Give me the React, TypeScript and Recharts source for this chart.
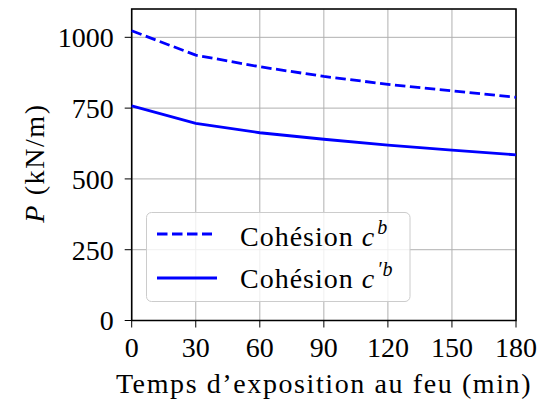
import React from "react";
import { LineChart, Line, XAxis, YAxis, CartesianGrid, ReferenceArea } from "recharts";

const temps = [0, 30, 60, 90, 120, 150, 180];
const cohesionB = [1023, 937, 896, 862, 834, 811, 788];
const cohesionPrimeB = [758, 696, 663, 640, 619, 602, 585];
const xTicks = [0, 30, 60, 90, 120, 150, 180];
const yTicks = [0, 250, 500, 750, 1000];
const seriesNames = ["Cohésion", "Cohésion"];
const seriesSup = ["b", "′b"];

const data = temps.map((t, i) => ({ t, b: cohesionB[i], pb: cohesionPrimeB[i] }));

const FONT = "'Liberation Serif', serif";
const BLUE = "#0000ff";
const FS = 28;
const DASH = "10.5 4.5";

const YLabel = () => {
  const cx = 44;
  const cy = 163;
  return (
    <text x={cx} y={cy} transform={`rotate(-90 ${cx} ${cy})`} textAnchor="middle"
      fontFamily={FONT} fontSize={FS} fill="#000" letterSpacing={1.6}>
      <tspan fontStyle="italic">P</tspan>
      <tspan> (kN/m)</tspan>
    </text>
  );
};

const XLabel = () => (
  <text x={324} y={393} textAnchor="middle" fontFamily={FONT} fontSize={FS} fill="#000" letterSpacing={1.6}>
    Temps d’exposition au feu (min)
  </text>
);

const LegendBox = () => (
  <svg width={539} height={403} style={{ position: "absolute", left: 0, top: 0, pointerEvents: "none" }}>
    <rect x={146.5} y={212.5} width={263.5} height={89} rx={5} fill="rgba(255,255,255,0.8)" stroke="#cccccc" strokeWidth={1} />
    {seriesNames.map((name, i) => {
      const ly = 234 + i * 44;
      const by = 246 + i * 42;
      return (
        <g key={i}>
          <line x1={157} x2={i === 0 ? 212 : 217} y1={ly} y2={ly} stroke={BLUE} strokeWidth={2.8}
            strokeDasharray={i === 0 ? DASH : undefined} />
          <text x={240} y={by} fontFamily={FONT} fontSize={FS} fill="#000" letterSpacing={1}>
            {name}{" "}
            <tspan fontStyle="italic">c</tspan>
            <tspan fontSize={20} dy={-12} dx={2} fontStyle="italic">{seriesSup[i]}</tspan>
          </text>
        </g>
      );
    })}
  </svg>
);

export default function App() {
  return (
    <div style={{ position: "absolute", left: 0, top: 0, width: 539, height: 403, background: "#fff", fontFamily: FONT }}>
      <LineChart width={539} height={403} data={data} margin={{ top: 9, right: 23, left: 0, bottom: 0 }}>
        <CartesianGrid stroke="#b0b0b0" strokeWidth={1} vertical horizontal />
        <XAxis dataKey="t" type="number" domain={[0, 180]} ticks={xTicks} height={82.5}
          stroke="#000" tickSize={7} tickMargin={10} axisLine={false}
          tick={{ fill: "#000", fontSize: FS, fontFamily: FONT }}
          label={<XLabel />} />
        <YAxis type="number" domain={[0, 1100]} ticks={yTicks} width={131.7}
          stroke="#000" tickSize={7} tickMargin={11} axisLine={false}
          tick={{ fill: "#000", fontSize: FS, fontFamily: FONT }}
          label={<YLabel />} />
        <Line dataKey="b" stroke={BLUE} strokeWidth={2.8} strokeDasharray={DASH} dot={false} isAnimationActive={false} type="linear" />
        <Line dataKey="pb" stroke={BLUE} strokeWidth={2.8} dot={false} isAnimationActive={false} type="linear" />
        <ReferenceArea x1={0} x2={180} y1={0} y2={1100} fill="none" stroke="#000" strokeWidth={1.6} ifOverflow="visible" />
      </LineChart>
      <LegendBox />
    </div>
  );
}
